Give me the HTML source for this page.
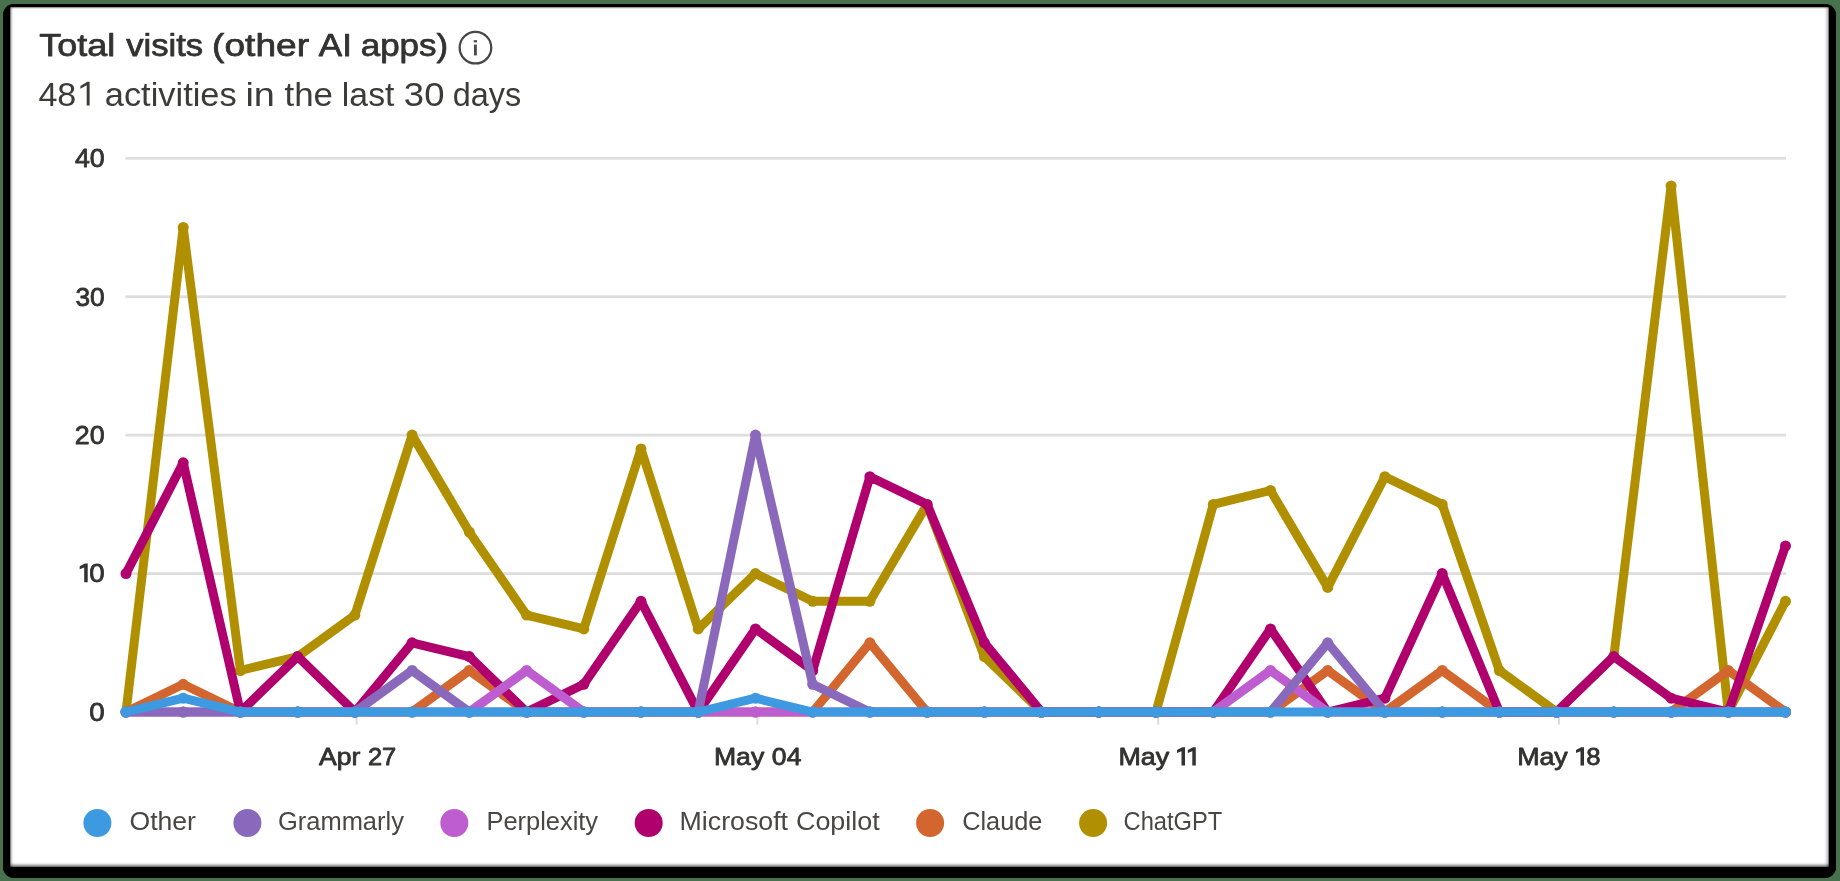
<!DOCTYPE html>
<html><head><meta charset="utf-8"><title>Total visits (other AI apps)</title>
<style>
html,body{margin:0;padding:0;background:#47724D;}
body{width:1840px;height:881px;overflow:hidden;font-family:"Liberation Sans",sans-serif;}
svg{display:block;will-change:transform;}
text{font-family:"Liberation Sans",sans-serif;}
</style></head><body>
<svg width="1840" height="881" viewBox="0 0 1840 881">
<defs>
<linearGradient id="gl" x1="0" x2="1" y1="0" y2="0"><stop offset="0" stop-color="#000" stop-opacity=".65"/><stop offset=".35" stop-color="#000" stop-opacity=".2"/><stop offset=".7" stop-color="#000" stop-opacity=".05"/><stop offset="1" stop-color="#000" stop-opacity="0"/></linearGradient>
<linearGradient id="gr" x1="1" x2="0" y1="0" y2="0"><stop offset="0" stop-color="#000" stop-opacity=".65"/><stop offset=".3" stop-color="#000" stop-opacity=".22"/><stop offset=".7" stop-color="#000" stop-opacity=".06"/><stop offset="1" stop-color="#000" stop-opacity="0"/></linearGradient>
<linearGradient id="gt" x1="0" x2="0" y1="0" y2="1"><stop offset="0" stop-color="#000" stop-opacity=".6"/><stop offset=".4" stop-color="#000" stop-opacity=".15"/><stop offset="1" stop-color="#000" stop-opacity="0"/></linearGradient>
<linearGradient id="gb" x1="0" x2="0" y1="1" y2="0"><stop offset="0" stop-color="#000" stop-opacity=".65"/><stop offset=".3" stop-color="#000" stop-opacity=".35"/><stop offset=".7" stop-color="#000" stop-opacity=".08"/><stop offset="1" stop-color="#000" stop-opacity="0"/></linearGradient>
<filter id="soft" x="0" y="0" width="1840" height="881" filterUnits="userSpaceOnUse"><feGaussianBlur stdDeviation="0.55"/></filter>
</defs>
<rect width="1840" height="881" fill="#47724D"/>
<path d="M11.8 4H1827.2Q1834.15 5.85 1836 12.8V869.2Q1834.15 876.15 1827.2 878H11.8Q4.85 876.15 3 869.2V12.8Q4.85 5.85 11.8 4Z" fill="#000"/>
<rect x="10" y="7" width="1819" height="860" fill="#fff"/>
<rect x="10" y="7" width="4" height="860" fill="url(#gl)"/>
<rect x="1824" y="7" width="5" height="860" fill="url(#gr)"/>
<rect x="10" y="7" width="1819" height="2.5" fill="url(#gt)"/>
<rect x="10" y="862" width="1819" height="5" fill="url(#gb)"/>
<g filter="url(#soft)">
<g><text x="39.35" y="56.4" font-size="31.5" fill="#323130" stroke="#323130" stroke-width="0.75" stroke-linejoin="round" textLength="75.88" lengthAdjust="spacingAndGlyphs">Total</text><text x="126.18" y="56.4" font-size="31.5" fill="#323130" stroke="#323130" stroke-width="0.75" stroke-linejoin="round" textLength="76.96" lengthAdjust="spacingAndGlyphs">visits</text><text x="212.13" y="56.4" font-size="31.5" fill="#323130" stroke="#323130" stroke-width="0.75" stroke-linejoin="round" textLength="96.88" lengthAdjust="spacingAndGlyphs">(other</text><text x="318.83" y="56.4" font-size="31.5" fill="#323130" stroke="#323130" stroke-width="0.75" stroke-linejoin="round" textLength="33.12" lengthAdjust="spacingAndGlyphs">AI</text><text x="360.69" y="56.4" font-size="31.5" fill="#323130" stroke="#323130" stroke-width="0.75" stroke-linejoin="round" textLength="87.52" lengthAdjust="spacingAndGlyphs">apps)</text></g>
<circle cx="475.45" cy="47.65" r="15.8" fill="none" stroke="#484644" stroke-width="2.3"/>
<rect x="474.0" y="44.6" width="2.8" height="10.8" fill="#484644"/><rect x="473.7" y="40.2" width="3.3" height="2.2" fill="#484644"/>
<g><text x="38.4" y="105.6" font-size="33.5" fill="#3b3a39" textLength="37.88" lengthAdjust="spacingAndGlyphs">48</text><text x="104.8" y="105.6" font-size="33.5" fill="#3b3a39" textLength="131.85" lengthAdjust="spacingAndGlyphs">activities</text><text x="245.41" y="105.6" font-size="33.5" fill="#3b3a39" textLength="29.49" lengthAdjust="spacingAndGlyphs">in</text><text x="284.48" y="105.6" font-size="33.5" fill="#3b3a39" textLength="48.54" lengthAdjust="spacingAndGlyphs">the</text><text x="341.88" y="105.6" font-size="33.5" fill="#3b3a39" textLength="52.52" lengthAdjust="spacingAndGlyphs">last</text><text x="403.88" y="105.6" font-size="33.5" fill="#3b3a39" textLength="40.55" lengthAdjust="spacingAndGlyphs">30</text><text x="452.84" y="105.6" font-size="33.5" fill="#3b3a39" textLength="68.45" lengthAdjust="spacingAndGlyphs">days</text><path d="M89.60 81.80L87.34 81.80L80.40 85.90L80.40 88.70L86.70 85.30L86.70 105.60L89.60 105.60Z" fill="#3b3a39"/></g>
<rect x="125.5" y="156.90" width="1660.5" height="2.8" fill="#dedede"/>
<rect x="125.5" y="295.32" width="1660.5" height="2.8" fill="#dedede"/>
<rect x="125.5" y="433.75" width="1660.5" height="2.8" fill="#dedede"/>
<rect x="125.5" y="572.18" width="1660.5" height="2.8" fill="#dedede"/>
<rect x="125.5" y="710.60" width="1660.5" height="2.8" fill="#dedede"/>
<g><text x="74.91" y="166.9" font-size="26.5" fill="#323130" stroke="#323130" stroke-width="0.8" stroke-linejoin="round" textLength="29.81" lengthAdjust="spacingAndGlyphs">40</text><text x="75.47" y="305.7" font-size="26.5" fill="#323130" stroke="#323130" stroke-width="0.8" stroke-linejoin="round" textLength="29.26" lengthAdjust="spacingAndGlyphs">30</text><text x="74.88" y="443.7" font-size="26.5" fill="#323130" stroke="#323130" stroke-width="0.8" stroke-linejoin="round" textLength="29.85" lengthAdjust="spacingAndGlyphs">20</text><text x="89.38" y="582.2" font-size="26.5" fill="#323130" stroke="#323130" stroke-width="0.8" stroke-linejoin="round" textLength="15.43" lengthAdjust="spacingAndGlyphs">0</text><text x="89.38" y="720.9" font-size="26.5" fill="#323130" stroke="#323130" stroke-width="0.8" stroke-linejoin="round" textLength="15.43" lengthAdjust="spacingAndGlyphs">0</text><path d="M87.70 563.60L84.97 563.60L79.70 566.20L79.70 569.30L84.20 567.48L84.20 582.20L87.70 582.20Z" fill="#323130"/></g>
<rect x="355.6" y="712" width="2" height="12.5" fill="#dcdcdc"/>
<rect x="756.4" y="712" width="2" height="12.5" fill="#dcdcdc"/>
<rect x="1157.2" y="712" width="2" height="12.5" fill="#dcdcdc"/>
<rect x="1558.0" y="712" width="2" height="12.5" fill="#dcdcdc"/>
<g><text x="318.94" y="765.2" font-size="24.4" fill="#323130" stroke="#323130" stroke-width="0.8" stroke-linejoin="round" textLength="41.36" lengthAdjust="spacingAndGlyphs">Apr</text><text x="367.96" y="765.2" font-size="24.4" fill="#323130" stroke="#323130" stroke-width="0.8" stroke-linejoin="round" textLength="28.34" lengthAdjust="spacingAndGlyphs">27</text><text x="713.94" y="765.2" font-size="24.4" fill="#323130" stroke="#323130" stroke-width="0.8" stroke-linejoin="round" textLength="50.27" lengthAdjust="spacingAndGlyphs">May</text><text x="771.87" y="765.2" font-size="24.4" fill="#323130" stroke="#323130" stroke-width="0.8" stroke-linejoin="round" textLength="29.56" lengthAdjust="spacingAndGlyphs">04</text><text x="1118.41" y="765.2" font-size="24.4" fill="#323130" stroke="#323130" stroke-width="0.8" stroke-linejoin="round" textLength="50.8" lengthAdjust="spacingAndGlyphs">May</text><text x="1517.17" y="765.2" font-size="24.4" fill="#323130" stroke="#323130" stroke-width="0.8" stroke-linejoin="round" textLength="50.6" lengthAdjust="spacingAndGlyphs">May</text><text x="1586.27" y="765.2" font-size="24.4" fill="#323130" stroke="#323130" stroke-width="0.8" stroke-linejoin="round" textLength="14.3" lengthAdjust="spacingAndGlyphs">8</text><path d="M1185.00 747.30L1182.27 747.30L1177.00 749.90L1177.00 753.00L1181.50 751.18L1181.50 765.60L1185.00 765.60Z" fill="#323130"/><path d="M1195.80 747.30L1193.07 747.30L1187.80 749.90L1187.80 753.00L1192.30 751.18L1192.30 765.60L1195.80 765.60Z" fill="#323130"/><path d="M1584.00 747.30L1581.27 747.30L1576.00 749.90L1576.00 753.00L1580.50 751.18L1580.50 765.60L1584.00 765.60Z" fill="#323130"/></g>
<g fill="#B09005" stroke="none"><polyline points="126.0,712.0 183.2,227.5 240.4,670.5 297.7,656.6 354.9,615.1 412.1,435.1 469.3,532.0 526.6,615.1 583.8,628.9 641.0,449.0 698.2,628.9 755.5,573.6 812.7,601.3 869.9,601.3 927.1,504.4 984.4,656.6 1041.6,712.0 1098.8,712.0 1156.0,712.0 1213.3,504.4 1270.5,490.5 1327.7,587.4 1384.9,476.7 1442.2,504.4 1499.4,670.5 1556.6,712.0 1613.8,656.6 1671.1,186.0 1728.3,712.0 1785.5,601.3" fill="none" stroke="#B09005" stroke-width="9.0" stroke-linejoin="round" stroke-linecap="round"/><circle cx="126.0" cy="712.0" r="5.5"/><circle cx="183.2" cy="227.5" r="5.5"/><circle cx="240.4" cy="670.5" r="5.5"/><circle cx="297.7" cy="656.6" r="5.5"/><circle cx="354.9" cy="615.1" r="5.5"/><circle cx="412.1" cy="435.1" r="5.5"/><circle cx="469.3" cy="532.0" r="5.5"/><circle cx="526.6" cy="615.1" r="5.5"/><circle cx="583.8" cy="628.9" r="5.5"/><circle cx="641.0" cy="449.0" r="5.5"/><circle cx="698.2" cy="628.9" r="5.5"/><circle cx="755.5" cy="573.6" r="5.5"/><circle cx="812.7" cy="601.3" r="5.5"/><circle cx="869.9" cy="601.3" r="5.5"/><circle cx="927.1" cy="504.4" r="5.5"/><circle cx="984.4" cy="656.6" r="5.5"/><circle cx="1041.6" cy="712.0" r="5.5"/><circle cx="1098.8" cy="712.0" r="5.5"/><circle cx="1156.0" cy="712.0" r="5.5"/><circle cx="1213.3" cy="504.4" r="5.5"/><circle cx="1270.5" cy="490.5" r="5.5"/><circle cx="1327.7" cy="587.4" r="5.5"/><circle cx="1384.9" cy="476.7" r="5.5"/><circle cx="1442.2" cy="504.4" r="5.5"/><circle cx="1499.4" cy="670.5" r="5.5"/><circle cx="1556.6" cy="712.0" r="5.5"/><circle cx="1613.8" cy="656.6" r="5.5"/><circle cx="1671.1" cy="186.0" r="5.5"/><circle cx="1728.3" cy="712.0" r="5.5"/><circle cx="1785.5" cy="601.3" r="5.5"/></g>
<g fill="#D3662D" stroke="none"><polyline points="126.0,712.0 183.2,684.3 240.4,712.0 297.7,712.0 354.9,712.0 412.1,712.0 469.3,670.5 526.6,712.0 583.8,712.0 641.0,712.0 698.2,712.0 755.5,712.0 812.7,712.0 869.9,642.8 927.1,712.0 984.4,712.0 1041.6,712.0 1098.8,712.0 1156.0,712.0 1213.3,712.0 1270.5,712.0 1327.7,670.5 1384.9,712.0 1442.2,670.5 1499.4,712.0 1556.6,712.0 1613.8,712.0 1671.1,712.0 1728.3,670.5 1785.5,712.0" fill="none" stroke="#D3662D" stroke-width="9.0" stroke-linejoin="round" stroke-linecap="round"/><circle cx="126.0" cy="712.0" r="5.5"/><circle cx="183.2" cy="684.3" r="5.5"/><circle cx="240.4" cy="712.0" r="5.5"/><circle cx="297.7" cy="712.0" r="5.5"/><circle cx="354.9" cy="712.0" r="5.5"/><circle cx="412.1" cy="712.0" r="5.5"/><circle cx="469.3" cy="670.5" r="5.5"/><circle cx="526.6" cy="712.0" r="5.5"/><circle cx="583.8" cy="712.0" r="5.5"/><circle cx="641.0" cy="712.0" r="5.5"/><circle cx="698.2" cy="712.0" r="5.5"/><circle cx="755.5" cy="712.0" r="5.5"/><circle cx="812.7" cy="712.0" r="5.5"/><circle cx="869.9" cy="642.8" r="5.5"/><circle cx="927.1" cy="712.0" r="5.5"/><circle cx="984.4" cy="712.0" r="5.5"/><circle cx="1041.6" cy="712.0" r="5.5"/><circle cx="1098.8" cy="712.0" r="5.5"/><circle cx="1156.0" cy="712.0" r="5.5"/><circle cx="1213.3" cy="712.0" r="5.5"/><circle cx="1270.5" cy="712.0" r="5.5"/><circle cx="1327.7" cy="670.5" r="5.5"/><circle cx="1384.9" cy="712.0" r="5.5"/><circle cx="1442.2" cy="670.5" r="5.5"/><circle cx="1499.4" cy="712.0" r="5.5"/><circle cx="1556.6" cy="712.0" r="5.5"/><circle cx="1613.8" cy="712.0" r="5.5"/><circle cx="1671.1" cy="712.0" r="5.5"/><circle cx="1728.3" cy="670.5" r="5.5"/><circle cx="1785.5" cy="712.0" r="5.5"/></g>
<g fill="#B0066E" stroke="none"><polyline points="126.0,573.6 183.2,462.8 240.4,712.0 297.7,656.6 354.9,712.0 412.1,642.8 469.3,656.6 526.6,712.0 583.8,684.3 641.0,601.3 698.2,712.0 755.5,628.9 812.7,670.5 869.9,476.7 927.1,504.4 984.4,642.8 1041.6,712.0 1098.8,712.0 1156.0,712.0 1213.3,712.0 1270.5,628.9 1327.7,712.0 1384.9,698.2 1442.2,573.6 1499.4,712.0 1556.6,712.0 1613.8,656.6 1671.1,698.2 1728.3,712.0 1785.5,545.9" fill="none" stroke="#B0066E" stroke-width="9.0" stroke-linejoin="round" stroke-linecap="round"/><circle cx="126.0" cy="573.6" r="5.5"/><circle cx="183.2" cy="462.8" r="5.5"/><circle cx="240.4" cy="712.0" r="5.5"/><circle cx="297.7" cy="656.6" r="5.5"/><circle cx="354.9" cy="712.0" r="5.5"/><circle cx="412.1" cy="642.8" r="5.5"/><circle cx="469.3" cy="656.6" r="5.5"/><circle cx="526.6" cy="712.0" r="5.5"/><circle cx="583.8" cy="684.3" r="5.5"/><circle cx="641.0" cy="601.3" r="5.5"/><circle cx="698.2" cy="712.0" r="5.5"/><circle cx="755.5" cy="628.9" r="5.5"/><circle cx="812.7" cy="670.5" r="5.5"/><circle cx="869.9" cy="476.7" r="5.5"/><circle cx="927.1" cy="504.4" r="5.5"/><circle cx="984.4" cy="642.8" r="5.5"/><circle cx="1041.6" cy="712.0" r="5.5"/><circle cx="1098.8" cy="712.0" r="5.5"/><circle cx="1156.0" cy="712.0" r="5.5"/><circle cx="1213.3" cy="712.0" r="5.5"/><circle cx="1270.5" cy="628.9" r="5.5"/><circle cx="1327.7" cy="712.0" r="5.5"/><circle cx="1384.9" cy="698.2" r="5.5"/><circle cx="1442.2" cy="573.6" r="5.5"/><circle cx="1499.4" cy="712.0" r="5.5"/><circle cx="1556.6" cy="712.0" r="5.5"/><circle cx="1613.8" cy="656.6" r="5.5"/><circle cx="1671.1" cy="698.2" r="5.5"/><circle cx="1728.3" cy="712.0" r="5.5"/><circle cx="1785.5" cy="545.9" r="5.5"/></g>
<g fill="#BE5DCF" stroke="none"><polyline points="126.0,712.0 183.2,712.0 240.4,712.0 297.7,712.0 354.9,712.0 412.1,712.0 469.3,712.0 526.6,670.5 583.8,712.0 641.0,712.0 698.2,712.0 755.5,712.0 812.7,712.0 869.9,712.0 927.1,712.0 984.4,712.0 1041.6,712.0 1098.8,712.0 1156.0,712.0 1213.3,712.0 1270.5,670.5 1327.7,712.0 1384.9,712.0 1442.2,712.0 1499.4,712.0 1556.6,712.0 1613.8,712.0 1671.1,712.0 1728.3,712.0 1785.5,712.0" fill="none" stroke="#BE5DCF" stroke-width="9.0" stroke-linejoin="round" stroke-linecap="round"/><circle cx="126.0" cy="712.0" r="5.5"/><circle cx="183.2" cy="712.0" r="5.5"/><circle cx="240.4" cy="712.0" r="5.5"/><circle cx="297.7" cy="712.0" r="5.5"/><circle cx="354.9" cy="712.0" r="5.5"/><circle cx="412.1" cy="712.0" r="5.5"/><circle cx="469.3" cy="712.0" r="5.5"/><circle cx="526.6" cy="670.5" r="5.5"/><circle cx="583.8" cy="712.0" r="5.5"/><circle cx="641.0" cy="712.0" r="5.5"/><circle cx="698.2" cy="712.0" r="5.5"/><circle cx="755.5" cy="712.0" r="5.5"/><circle cx="812.7" cy="712.0" r="5.5"/><circle cx="869.9" cy="712.0" r="5.5"/><circle cx="927.1" cy="712.0" r="5.5"/><circle cx="984.4" cy="712.0" r="5.5"/><circle cx="1041.6" cy="712.0" r="5.5"/><circle cx="1098.8" cy="712.0" r="5.5"/><circle cx="1156.0" cy="712.0" r="5.5"/><circle cx="1213.3" cy="712.0" r="5.5"/><circle cx="1270.5" cy="670.5" r="5.5"/><circle cx="1327.7" cy="712.0" r="5.5"/><circle cx="1384.9" cy="712.0" r="5.5"/><circle cx="1442.2" cy="712.0" r="5.5"/><circle cx="1499.4" cy="712.0" r="5.5"/><circle cx="1556.6" cy="712.0" r="5.5"/><circle cx="1613.8" cy="712.0" r="5.5"/><circle cx="1671.1" cy="712.0" r="5.5"/><circle cx="1728.3" cy="712.0" r="5.5"/><circle cx="1785.5" cy="712.0" r="5.5"/></g>
<g fill="#8A68BC" stroke="none"><polyline points="126.0,712.0 183.2,712.0 240.4,712.0 297.7,712.0 354.9,712.0 412.1,670.5 469.3,712.0 526.6,712.0 583.8,712.0 641.0,712.0 698.2,712.0 755.5,435.1 812.7,684.3 869.9,712.0 927.1,712.0 984.4,712.0 1041.6,712.0 1098.8,712.0 1156.0,712.0 1213.3,712.0 1270.5,712.0 1327.7,642.8 1384.9,712.0 1442.2,712.0 1499.4,712.0 1556.6,712.0 1613.8,712.0 1671.1,712.0 1728.3,712.0 1785.5,712.0" fill="none" stroke="#8A68BC" stroke-width="9.0" stroke-linejoin="round" stroke-linecap="round"/><circle cx="126.0" cy="712.0" r="5.5"/><circle cx="183.2" cy="712.0" r="5.5"/><circle cx="240.4" cy="712.0" r="5.5"/><circle cx="297.7" cy="712.0" r="5.5"/><circle cx="354.9" cy="712.0" r="5.5"/><circle cx="412.1" cy="670.5" r="5.5"/><circle cx="469.3" cy="712.0" r="5.5"/><circle cx="526.6" cy="712.0" r="5.5"/><circle cx="583.8" cy="712.0" r="5.5"/><circle cx="641.0" cy="712.0" r="5.5"/><circle cx="698.2" cy="712.0" r="5.5"/><circle cx="755.5" cy="435.1" r="5.5"/><circle cx="812.7" cy="684.3" r="5.5"/><circle cx="869.9" cy="712.0" r="5.5"/><circle cx="927.1" cy="712.0" r="5.5"/><circle cx="984.4" cy="712.0" r="5.5"/><circle cx="1041.6" cy="712.0" r="5.5"/><circle cx="1098.8" cy="712.0" r="5.5"/><circle cx="1156.0" cy="712.0" r="5.5"/><circle cx="1213.3" cy="712.0" r="5.5"/><circle cx="1270.5" cy="712.0" r="5.5"/><circle cx="1327.7" cy="642.8" r="5.5"/><circle cx="1384.9" cy="712.0" r="5.5"/><circle cx="1442.2" cy="712.0" r="5.5"/><circle cx="1499.4" cy="712.0" r="5.5"/><circle cx="1556.6" cy="712.0" r="5.5"/><circle cx="1613.8" cy="712.0" r="5.5"/><circle cx="1671.1" cy="712.0" r="5.5"/><circle cx="1728.3" cy="712.0" r="5.5"/><circle cx="1785.5" cy="712.0" r="5.5"/></g>
<g fill="#3E9AE0" stroke="none"><polyline points="126.0,712.0 183.2,698.2 240.4,712.0 297.7,712.0 354.9,712.0 412.1,712.0 469.3,712.0 526.6,712.0 583.8,712.0 641.0,712.0 698.2,712.0 755.5,698.2 812.7,712.0 869.9,712.0 927.1,712.0 984.4,712.0 1041.6,712.0 1098.8,712.0 1156.0,712.0 1213.3,712.0 1270.5,712.0 1327.7,712.0 1384.9,712.0 1442.2,712.0 1499.4,712.0 1556.6,712.0 1613.8,712.0 1671.1,712.0 1728.3,712.0 1785.5,712.0" fill="none" stroke="#3E9AE0" stroke-width="9.0" stroke-linejoin="round" stroke-linecap="round"/><circle cx="126.0" cy="712.0" r="5.5"/><circle cx="183.2" cy="698.2" r="5.5"/><circle cx="240.4" cy="712.0" r="5.5"/><circle cx="297.7" cy="712.0" r="5.5"/><circle cx="354.9" cy="712.0" r="5.5"/><circle cx="412.1" cy="712.0" r="5.5"/><circle cx="469.3" cy="712.0" r="5.5"/><circle cx="526.6" cy="712.0" r="5.5"/><circle cx="583.8" cy="712.0" r="5.5"/><circle cx="641.0" cy="712.0" r="5.5"/><circle cx="698.2" cy="712.0" r="5.5"/><circle cx="755.5" cy="698.2" r="5.5"/><circle cx="812.7" cy="712.0" r="5.5"/><circle cx="869.9" cy="712.0" r="5.5"/><circle cx="927.1" cy="712.0" r="5.5"/><circle cx="984.4" cy="712.0" r="5.5"/><circle cx="1041.6" cy="712.0" r="5.5"/><circle cx="1098.8" cy="712.0" r="5.5"/><circle cx="1156.0" cy="712.0" r="5.5"/><circle cx="1213.3" cy="712.0" r="5.5"/><circle cx="1270.5" cy="712.0" r="5.5"/><circle cx="1327.7" cy="712.0" r="5.5"/><circle cx="1384.9" cy="712.0" r="5.5"/><circle cx="1442.2" cy="712.0" r="5.5"/><circle cx="1499.4" cy="712.0" r="5.5"/><circle cx="1556.6" cy="712.0" r="5.5"/><circle cx="1613.8" cy="712.0" r="5.5"/><circle cx="1671.1" cy="712.0" r="5.5"/><circle cx="1728.3" cy="712.0" r="5.5"/><circle cx="1785.5" cy="712.0" r="5.5"/></g>
<circle cx="97.4" cy="823.0" r="14.0" fill="#3E9AE0"/><text x="129.47" y="830.3" font-size="25.8" fill="#484644" textLength="66.47" lengthAdjust="spacingAndGlyphs">Other</text>
<circle cx="247.4" cy="823.0" r="14.0" fill="#8A68BC"/><text x="277.91" y="830.3" font-size="25.8" fill="#484644" textLength="126.04" lengthAdjust="spacingAndGlyphs">Grammarly</text>
<circle cx="454.3" cy="823.0" r="14.0" fill="#BE5DCF"/><text x="486.47" y="830.3" font-size="25.8" fill="#484644" textLength="111.61" lengthAdjust="spacingAndGlyphs">Perplexity</text>
<circle cx="648.7" cy="823.0" r="14.0" fill="#B0066E"/><text x="679.58" y="830.3" font-size="25.8" fill="#484644" textLength="108.46" lengthAdjust="spacingAndGlyphs">Microsoft</text><text x="795.95" y="830.3" font-size="25.8" fill="#484644" textLength="83.87" lengthAdjust="spacingAndGlyphs">Copilot</text>
<circle cx="930.1" cy="823.0" r="14.0" fill="#D3662D"/><text x="962.21" y="830.3" font-size="25.8" fill="#484644" textLength="80.12" lengthAdjust="spacingAndGlyphs">Claude</text>
<circle cx="1093.1" cy="823.0" r="14.0" fill="#B09005"/><text x="1123.58" y="830.3" font-size="25.8" fill="#484644" textLength="98.69" lengthAdjust="spacingAndGlyphs">ChatGPT</text>
</g>
</svg>
</body></html>
